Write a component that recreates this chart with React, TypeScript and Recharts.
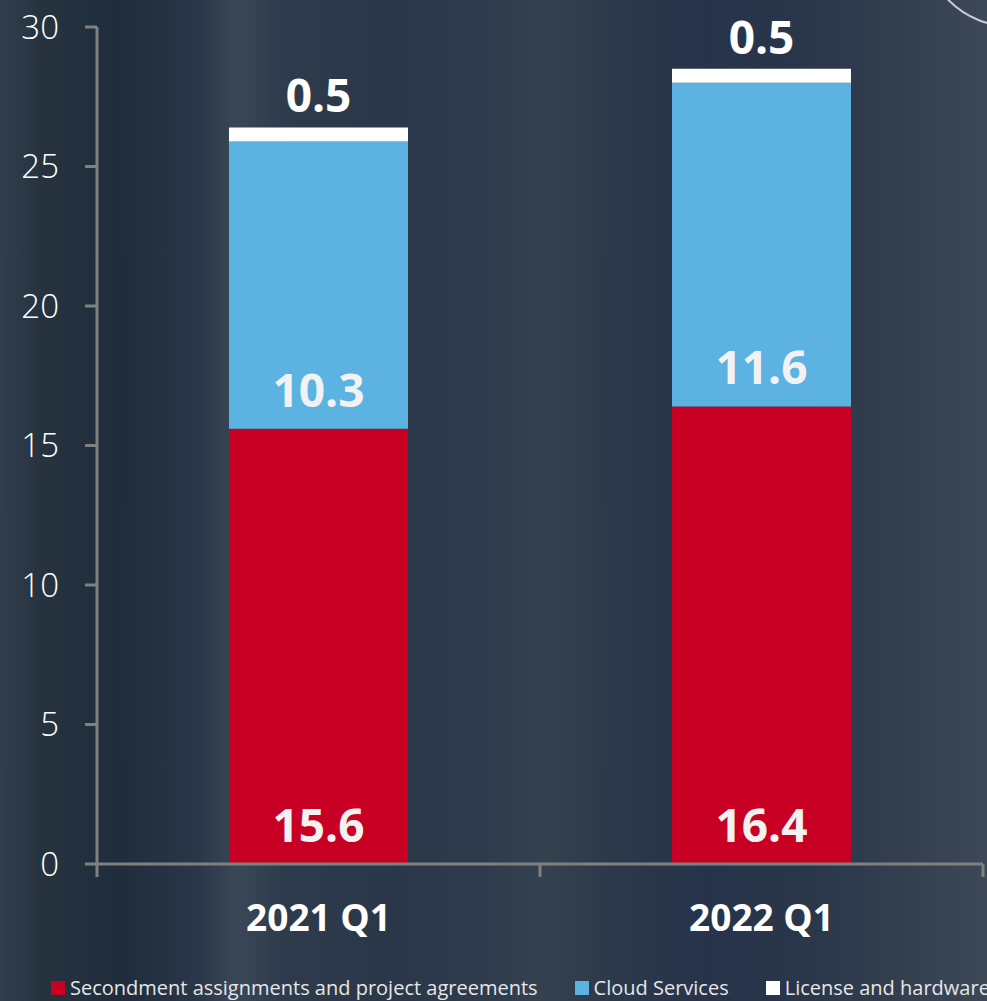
import React from 'react';
import { BarChart, Bar, XAxis, YAxis, LabelList } from 'recharts';

const categories = ['2021 Q1', '2022 Q1'];
const secondment = [15.6, 16.4];
const cloud = [10.3, 11.6];
const license = [0.5, 0.5];
const yTicks = [0, 5, 10, 15, 20, 25, 30];

const seriesInfo = [
  { key: 'secondment', name: 'Secondment assignments and project agreements', color: '#c80024' },
  { key: 'cloud', name: 'Cloud Services', color: '#5cb3e2' },
  { key: 'license', name: 'License and hardware', color: '#ffffff' },
];

const data = categories.map((c, i) => ({
  category: c,
  pos: i + 0.5,
  secondment: secondment[i],
  cloud: cloud[i],
  license: license[i],
}));

const FONT = '"Open Sans", "Noto Sans", sans-serif';
const AXIS = '#808080';

const XTick = (props: any) => {
  const { x, y, payload } = props;
  const v = payload.value as number;
  if (Math.abs(v - Math.round(v)) < 1e-6) {
    return <line x1={x} x2={x} y1={y} y2={y + 13} stroke={AXIS} strokeWidth={3} />;
  }
  const label = categories[Math.floor(v)];
  return (
    <text x={x} y={y + 67} textAnchor="middle" fill="#ffffff" fontSize={37} fontWeight={700} fontFamily={FONT}>
      {label}
    </text>
  );
};

const insideBottomLabel = (props: any) => {
  const { x, y, width, height, value } = props;
  return (
    <text x={x + width / 2} y={y + height - 22} textAnchor="middle" fill="#f2f2f2" fontSize={46} fontWeight={700} fontFamily={FONT}>
      {value}
    </text>
  );
};

const topLabel = (props: any) => {
  const { x, y, width, value } = props;
  return (
    <text x={x + width / 2} y={y - 15} textAnchor="middle" fill="#ffffff" fontSize={46} fontWeight={700} fontFamily={FONT}>
      {value}
    </text>
  );
};

export default function App() {
  return (
    <div
      style={{
        position: 'absolute',
        left: 0,
        top: 0,
        width: 987,
        height: 1001,
        overflow: 'hidden',
        fontFamily: FONT,
        background:
          'linear-gradient(90deg, #323e4e 0%, #26333f 4%, #1f2c3c 12%, #2a3748 20%, #3a4757 24%, #2e3b4c 29%, #2a3748 40%, #2f3c4d 50%, #34414f 55%, #2c394a 62%, #26334a 72%, #2a3749 82%, #344050 92%, #3c4858 100%)',
      }}
    >
      <div
        style={{
          position: 'absolute',
          left: 923,
          top: -147,
          width: 174,
          height: 174,
          borderRadius: '50%',
          border: '2px solid rgba(225,225,225,0.85)',
          boxSizing: 'border-box',
        }}
      />
      <BarChart width={987} height={1001} data={data} margin={{ top: 27, right: 4, left: 0, bottom: 0 }}>
        <YAxis
          type="number"
          domain={[0, 30]}
          ticks={yTicks}
          interval={0}
          width={97}
          tickSize={12}
          tickMargin={26}
          axisLine={{ stroke: AXIS, strokeWidth: 3 }}
          tickLine={{ stroke: AXIS, strokeWidth: 3 }}
          tick={{ fill: '#ffffff', fontSize: 33, fontWeight: 300, fontFamily: FONT }}
        />
        <XAxis
          type="number"
          dataKey="pos"
          domain={[0, 2]}
          ticks={[0, 0.5, 1, 1.5, 2]}
          interval={0}
          height={137}
          tickSize={0}
          tickMargin={0}
          tickLine={false}
          axisLine={{ stroke: AXIS, strokeWidth: 3 }}
          tick={<XTick />}
        />
        <Bar dataKey="secondment" stackId="a" fill={seriesInfo[0].color} barSize={179} isAnimationActive={false}>
          <LabelList dataKey="secondment" content={insideBottomLabel} />
        </Bar>
        <Bar dataKey="cloud" stackId="a" fill={seriesInfo[1].color} barSize={179} isAnimationActive={false}>
          <LabelList dataKey="cloud" content={insideBottomLabel} />
        </Bar>
        <Bar dataKey="license" stackId="a" fill={seriesInfo[2].color} barSize={179} isAnimationActive={false}>
          <LabelList dataKey="license" content={topLabel} />
        </Bar>
      </BarChart>
      <div
        style={{
          position: 'absolute',
          left: 51,
          top: 974,
          display: 'flex',
          alignItems: 'center',
          whiteSpace: 'nowrap',
          gap: 37,
          color: '#e6e6e6',
          fontSize: 20,
          lineHeight: '28px',
        }}
      >
        {seriesInfo.map((s) => (
          <div key={s.key} style={{ display: 'flex', alignItems: 'center' }}>
            <span style={{ display: 'inline-block', width: 14, height: 14, background: s.color, marginRight: 5 }} />
            <span>{s.name}</span>
          </div>
        ))}
      </div>
    </div>
  );
}
